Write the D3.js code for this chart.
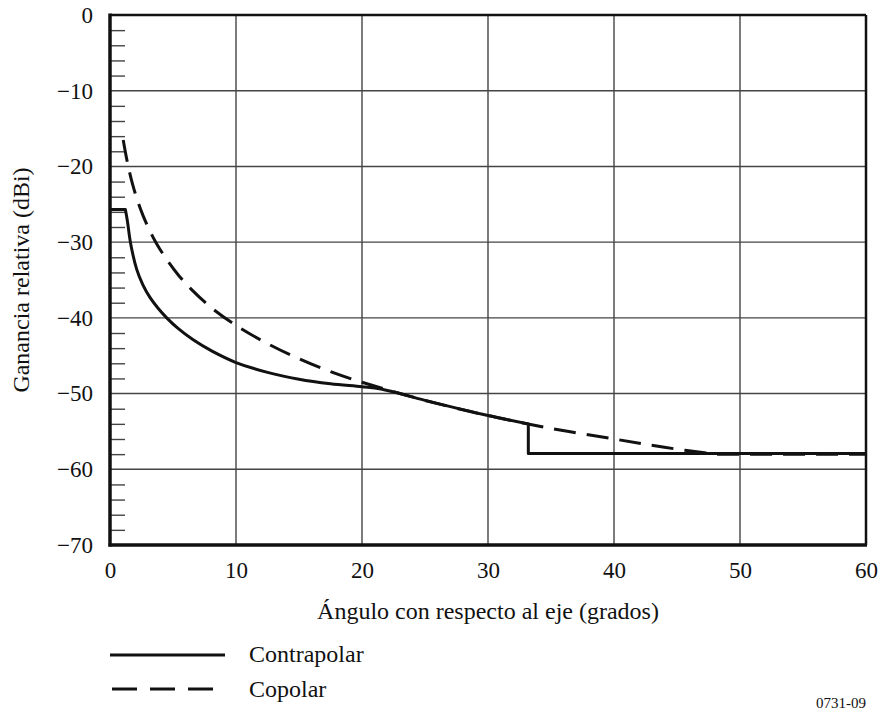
<!DOCTYPE html>
<html>
<head>
<meta charset="utf-8">
<script src="https://cdn.jsdelivr.net/npm/d3@7"></script>
</head>
<body style="margin:0">
<script>
// chart values
var xTicks = [0, 10, 20, 30, 40, 50, 60];
var yTicks = [0, -10, -20, -30, -40, -50, -60, -70];
var yMinor = [-2, -4, -6, -8, -12, -14, -16, -18, -22, -24, -26, -28, -32, -34, -36, -38,
              -42, -44, -46, -48, -52, -54, -56, -58, -62, -64, -66, -68];

// contrapolar (solid): angle, relative gain
var contraAngle = [0, 1.22, 1.38, 1.64, 2.12, 2.6, 3.17, 3.8, 4.5, 5.4, 6.6, 8.1, 10, 12.5, 15, 17.5, 20, 21.5, 25, 30, 33.2, 33.2, 60];
var contraGain  = [-25.7, -25.7, -27.2, -30.2, -33.6, -35.6, -37.3, -38.7, -40.0, -41.4, -42.9, -44.4, -45.9, -47.2, -48.1, -48.7, -49.1, -49.4, -50.9, -52.9, -54.0, -57.9, -57.9];

// copolar (dashed)
var coAngle = [1.05, 1.3, 1.53, 1.8, 2.2, 2.6, 3.1, 3.7, 4.5, 5.5, 6.5, 8, 10, 12.5, 15, 17.5, 20, 25, 30, 35, 40, 44, 48, 60];
var coGain  = [-16.5, -18.8, -20.6, -22.4, -24.6, -26.4, -28.3, -30.2, -32.3, -34.5, -36.3, -38.6, -41.0, -43.4, -45.4, -47.1, -48.5, -50.9, -52.9, -54.6, -56.0, -57.1, -58.0, -58.0];

var W = 882, H = 713;
var FONT = "'Liberation Serif'";
var svg = d3.select("body").append("svg").attr("width", W).attr("height", H);

var x = d3.scaleLinear().domain([0, 60]).range([110, 866]);
var y = d3.scaleLinear().domain([-70, 0]).range([545, 15]);

function label(sel, size) {
  return sel.style("font-family", FONT).style("font-size", size + "px").style("fill", "#111");
}

// grid
svg.append("g").selectAll("line").data(xTicks.slice(1, -1)).enter().append("line")
  .attr("x1", d => x(d)).attr("x2", d => x(d)).attr("y1", y(0)).attr("y2", y(-70))
  .attr("stroke", "#444").attr("stroke-width", 1.4);
svg.append("g").selectAll("line").data(yTicks.slice(1, -1)).enter().append("line")
  .attr("x1", x(0)).attr("x2", x(60)).attr("y1", d => y(d)).attr("y2", d => y(d))
  .attr("stroke", "#444").attr("stroke-width", 1.4);

// minor ticks on the left axis, pointing inwards
var minor = svg.append("g").attr("transform", "translate(" + x(0) + ",0)")
  .call(d3.axisLeft(y).tickValues(yMinor).tickSize(-15).tickFormat(""));
minor.select(".domain").remove();
minor.selectAll("line").attr("stroke", "#444").attr("stroke-width", 1.4);

// tick labels
var yAx = svg.append("g").attr("transform", "translate(" + x(0) + ",0)")
  .call(d3.axisLeft(y).tickValues(yTicks).tickSize(0).tickPadding(17));
yAx.select(".domain").remove();
yAx.attr("font-family", null).attr("font-size", null);
label(yAx.selectAll("text"), 23);

var xAx = svg.append("g").attr("transform", "translate(0," + y(-70) + ")")
  .call(d3.axisBottom(x).tickValues(xTicks).tickSize(0).tickPadding(17));
xAx.select(".domain").remove();
xAx.attr("font-family", null).attr("font-size", null);
label(xAx.selectAll("text"), 23);

// frame
svg.append("line").attr("x1", x(0)).attr("x2", x(60)).attr("y1", y(0)).attr("y2", y(0)).attr("stroke", "#111").attr("stroke-width", 2.5);
svg.append("line").attr("x1", x(60)).attr("x2", x(60)).attr("y1", y(0)).attr("y2", y(-70)).attr("stroke", "#111").attr("stroke-width", 2.5);
svg.append("line").attr("x1", x(0)).attr("x2", x(0)).attr("y1", y(0) - 1.5).attr("y2", y(-70) + 1.5).attr("stroke", "#111").attr("stroke-width", 3.5);
svg.append("line").attr("x1", x(0) - 1.5).attr("x2", x(60) + 1).attr("y1", y(-70)).attr("y2", y(-70)).attr("stroke", "#111").attr("stroke-width", 3.5);

// curves
var contra = contraAngle.map((a, i) => [a, contraGain[i]]);
var co = coAngle.map((a, i) => [a, coGain[i]]);
var smooth = d3.line().x(d => x(d[0])).y(d => y(d[1])).curve(d3.curveCatmullRom.alpha(0.5));
var straight = d3.line().x(d => x(d[0])).y(d => y(d[1]));

svg.append("path").attr("d", smooth(co.slice(0, -1)) + "L" + straight(co.slice(-2)).slice(1))
  .attr("fill", "none")
  .attr("stroke", "#111").attr("stroke-width", 3).attr("stroke-dasharray", "22,11");

// flat top, curved fall, then the step down and the floor
var cPath = straight(contra.slice(0, 2)) +
  "L" + smooth(contra.slice(1, 21)).slice(1) +
  "L" + straight(contra.slice(20)).slice(1);
svg.append("path").attr("d", cPath).attr("fill", "none")
  .attr("stroke", "#111").attr("stroke-width", 3).attr("stroke-linejoin", "round");

// axis titles
label(svg.append("text").attr("x", 488).attr("y", 619).attr("text-anchor", "middle"), 24)
  .text("Ángulo con respecto al eje (grados)");
label(svg.append("text").attr("transform", "translate(29,280) rotate(-90)").attr("text-anchor", "middle"), 24)
  .text("Ganancia relativa (dBi)");

// legend
svg.append("line").attr("x1", 110).attr("x2", 225).attr("y1", 655).attr("y2", 655)
  .attr("stroke", "#111").attr("stroke-width", 3);
label(svg.append("text").attr("x", 249).attr("y", 662), 24).text("Contrapolar");
svg.append("line").attr("x1", 112).attr("x2", 218).attr("y1", 689).attr("y2", 689)
  .attr("stroke", "#111").attr("stroke-width", 3).attr("stroke-dasharray", "25,13");
label(svg.append("text").attr("x", 249).attr("y", 697), 24).text("Copolar");

label(svg.append("text").attr("x", 866).attr("y", 708).attr("text-anchor", "end"), 15)
  .text("0731-09");
</script>
</body>
</html>
